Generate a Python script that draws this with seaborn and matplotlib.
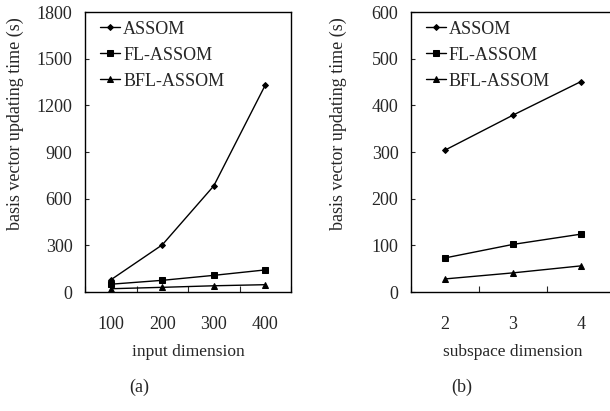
import seaborn as sns
import matplotlib.pyplot as plt
import pandas as pd

# data
methods = ['ASSOM', 'FL-ASSOM', 'BFL-ASSOM']
input_dims = [100, 200, 300, 400]
time_a = {'ASSOM': [78, 303, 682, 1330],
          'FL-ASSOM': [50, 75, 107, 142],
          'BFL-ASSOM': [21, 30, 40, 47]}
subspace_dims = [2, 3, 4]
time_b = {'ASSOM': [304, 379, 451],
          'FL-ASSOM': [73, 102, 124],
          'BFL-ASSOM': [28, 41, 56]}

sns.set_style('ticks')
plt.rcParams['font.family'] = ['Liberation Serif', 'DejaVu Serif']
plt.rcParams['font.size'] = 12.5

W, H = 610, 411
fig = plt.figure(figsize=(W / 100, H / 100), dpi=100)

markers = {'ASSOM': 'D', 'FL-ASSOM': 's', 'BFL-ASSOM': '^'}
msizes = {'ASSOM': 3, 'FL-ASSOM': 5, 'BFL-ASSOM': 4.5}


def long_df(xs, table):
    rows = []
    for m in methods:
        for x, v in zip(xs, table[m]):
            rows.append({'x': x, 'time': v, 'method': m})
    return pd.DataFrame(rows)


def panel(rect, xs, table, step, ymax, ystep, xlabel, caption, xl_x, yl_x, cap_x):
    ax = fig.add_axes(rect)
    df = long_df(xs, table)
    for m in methods:
        sns.lineplot(data=df[df.method == m], x='x', y='time', color='black',
                     marker=markers[m], markersize=msizes[m], linewidth=1,
                     markeredgecolor='black', label=m, ax=ax)
    ax.set_xlim(xs[0] - step / 2, xs[-1] + step / 2)
    ax.set_ylim(0, ymax)
    ax.set_xticks(xs)
    ax.set_xticks([x - step / 2 for x in xs] + [xs[-1] + step / 2], minor=True)
    ax.set_yticks(range(0, ymax + 1, ystep))
    ax.tick_params(axis='both', which='major', labelsize=13)
    ax.tick_params(axis='x', which='major', length=0, pad=17)
    ax.tick_params(axis='x', which='minor', direction='in', length=4, width=0.8)
    ax.tick_params(axis='y', direction='in', length=3, width=0.8, pad=9)
    for s in ax.spines.values():
        s.set_visible(True)
        s.set_linewidth(1.0)
        s.set_color('black')
    ax.set_xlabel('')
    ax.set_ylabel('')
    ax.legend(loc='upper left', frameon=False, handlelength=1.1,
              handletextpad=0.15, labelspacing=0.5, fontsize=13,
              bbox_to_anchor=(0.04, 0.995), borderaxespad=0)
    fig.text(xl_x / W, 1 - 352 / H, xlabel, ha='center', va='center')
    fig.text(yl_x / W, 1 - 124 / H, 'basis vector updating time (s)',
             rotation=90, ha='center', va='center', fontsize=13)
    fig.text(cap_x / W, 1 - 387 / H, caption, ha='center', va='center', fontsize=13)
    return ax


panel([85 / W, 1 - 292 / H, 206 / W, 280 / H], input_dims, time_a, 100, 1800, 300,
      'input dimension', '(a)', 188, 15, 139)
panel([411 / W, 1 - 292 / H, 204 / W, 280 / H], subspace_dims, time_b, 1, 600, 100,
      'subspace dimension', '(b)', 513, 338, 462)

fig.savefig('out.png', dpi=100)
